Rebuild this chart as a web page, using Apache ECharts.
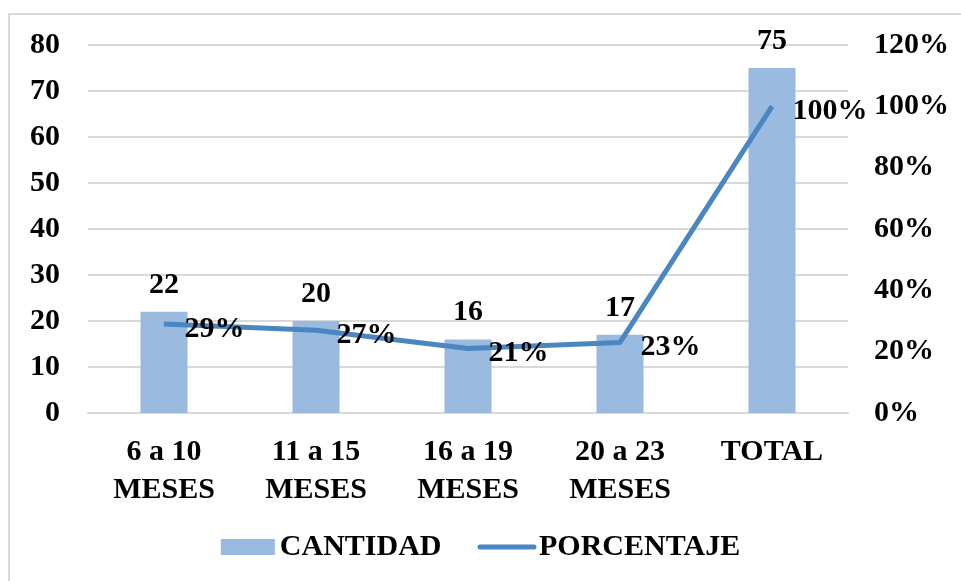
<!DOCTYPE html>
<html><head><meta charset="utf-8">
<script src="https://cdn.jsdelivr.net/npm/echarts@6/dist/echarts.min.js"></script>
<style>html,body{margin:0;padding:0;background:#fff}#c{width:961px;height:581px}</style>
</head><body><div id="c"></div>
<script>
const categories = ['6 a 10\nMESES','11 a 15\nMESES','16 a 19\nMESES','20 a 23\nMESES','TOTAL'];
const cantidad = [22,20,16,17,75];
const porcentaje = [29,27,21,23,100];
const leftTicks = {min:0,max:80,interval:10};
const rightTicks = {min:0,max:120,interval:20};
const font = 'Liberation Serif';
const fs = 30;
const chart = echarts.init(document.getElementById('c'));
chart.setOption({
  animation:false,
  graphic:[{type:'rect',shape:{x:9,y:14,width:960,height:580},style:{fill:'none',stroke:'#d9d9d9',lineWidth:2}}],
  grid:{left:88,right:113,top:45,bottom:168},
  legend:{bottom:14,left:'center',itemGap:36,itemWidth:54,itemHeight:16,
    textStyle:{fontFamily:font,fontWeight:'bold',fontSize:fs,color:'#000'},
    data:[{name:'CANTIDAD',icon:'rect'},{name:'PORCENTAJE',lineStyle:{width:5,cap:'round'},itemStyle:{opacity:0}}]},
  xAxis:{type:'category',data:categories,
    axisLine:{lineStyle:{color:'#d9d9d9',width:2}},axisTick:{show:false},
    axisLabel:{fontFamily:font,fontWeight:'bold',fontSize:fs,color:'#000',lineHeight:38,margin:20}},
  yAxis:[{type:'value',min:leftTicks.min,max:leftTicks.max,interval:leftTicks.interval,
    axisLine:{show:false},axisTick:{show:false},
    splitLine:{lineStyle:{color:'#d9d9d9',width:2}},
    axisLabel:{fontFamily:font,fontWeight:'bold',fontSize:fs,color:'#000',margin:28}},
    {type:'value',min:rightTicks.min,max:rightTicks.max,interval:rightTicks.interval,
    axisLine:{show:false},axisTick:{show:false},splitLine:{show:false},
    axisLabel:{fontFamily:font,fontWeight:'bold',fontSize:fs,color:'#000',margin:26,formatter:'{value}%'}}],
  series:[{name:'CANTIDAD',type:'bar',data:cantidad,barWidth:47,
    itemStyle:{color:'#9bbae0'},
    label:{show:true,position:'top',distance:12,fontFamily:font,fontWeight:'bold',fontSize:fs,color:'#000'}},
    {name:'PORCENTAJE',type:'line',yAxisIndex:1,data:porcentaje,symbol:'circle',symbolSize:1,showSymbol:true,
    lineStyle:{color:'#4a86c0',width:5},itemStyle:{color:'#4a86c0'},
    label:{show:true,position:'right',distance:20,offset:[0,5],formatter:'{c}%',fontFamily:font,fontWeight:'bold',fontSize:fs,color:'#000'}}]
});
</script></body></html>
